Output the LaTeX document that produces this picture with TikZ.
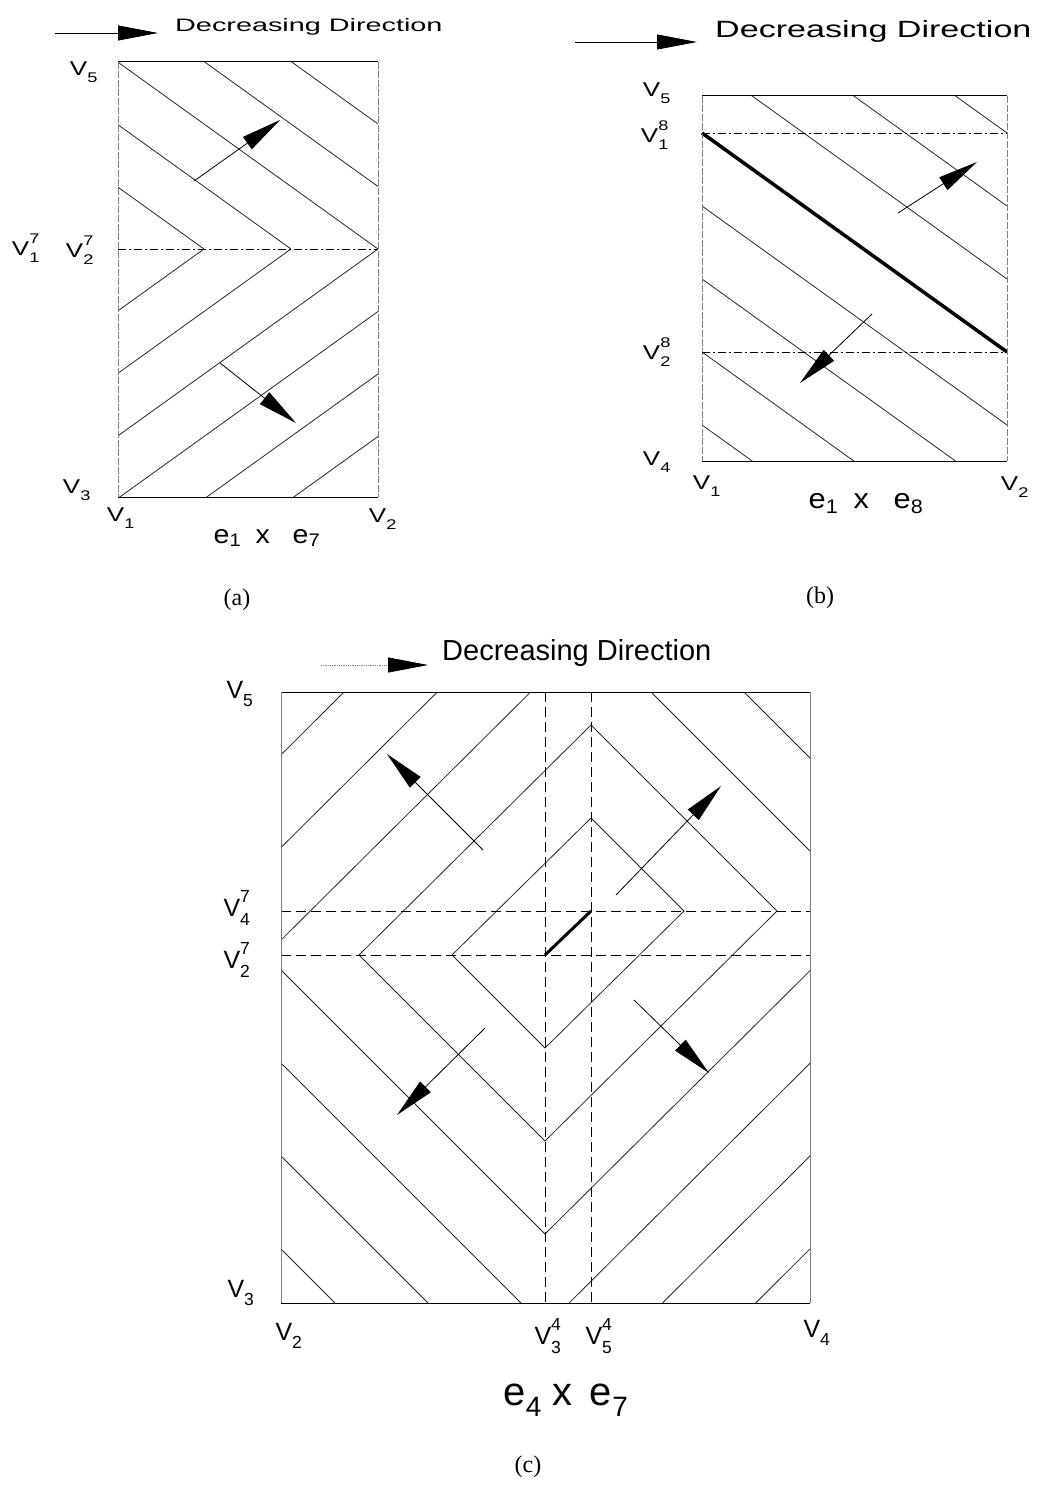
\documentclass[tikz,border=0pt]{standalone}
\usepackage{graphicx}
\usepackage{fontspec}
\setmainfont{Liberation Sans}
\newfontfamily\capfont{Liberation Serif}
\usetikzlibrary{arrows.meta}

\newcommand{\Vs}[1]{V\textsubscript{\raisebox{-0.25em}{#1}}}
\newcommand{\Vss}[2]{V\rlap{\textsuperscript{\raisebox{0.3em}{#1}}}\textsubscript{\raisebox{-0.3em}{#2}}}
\newcommand{\wide}[2][1.3]{\scalebox{#1}[1]{#2}}

\begin{document}
\begin{tikzpicture}[x=1pt, y=-1pt,
    contour/.style={line width=0.8pt, black!85},
    sideln/.style={line width=0.6pt, gray, dash pattern=on 7pt off 2pt},
    boxln/.style={line width=1pt},
    dashdot/.style={line width=0.7pt, dash pattern=on 8pt off 3pt on 2pt off 3pt},
    dashln/.style={line width=0.7pt, dash pattern=on 10pt off 5pt},
    optline/.style={line width=3.5pt},
    gradarrow/.style={line width=0.8pt, -{Triangle[length=40pt,width=15pt]}},
    lab/.style={inner sep=0pt, font=\fontsize{20}{22}\selectfont},
    labc/.style={inner sep=0pt, font=\fontsize{25}{28}\selectfont},
    capt/.style={inner sep=0pt, font=\capfont\fontsize{24}{28}\selectfont}
  ]
  \useasboundingbox (0,0) rectangle (1040,1487);

  % ---------- (a) e1 x e7 ----------
  \coordinate (a-nw) at (118,62);
  \coordinate (a-ne) at (378,62);
  \coordinate (a-sw) at (118,497);
  \coordinate (a-se) at (378,497);
  \coordinate (a-ml) at (118,249);
  \coordinate (a-mr) at (378,249);
  \begin{scope}
    \clip (a-nw) rectangle (a-mr);
    \foreach \a in {204,291,378,465,552}
      \draw[contour] (\a,249) -- ++(-348,-250);
  \end{scope}
  \begin{scope}
    \clip (a-ml) rectangle (a-se);
    \foreach \a in {204,291,378,465,552,639}
      \draw[contour] (\a,249) -- ++(-348,250);
  \end{scope}
  \draw[boxln] (a-nw) -- (a-ne);
  \draw[boxln] (a-sw) -- (a-se);
  \draw[sideln] (a-nw) -- (a-sw);
  \draw[sideln] (a-ne) -- (a-se);
  \draw[dashdot] (a-ml) -- (a-mr);

  \coordinate (a-dir-s) at (55,33);
  \coordinate (a-dir-t) at (158,33);
  \draw[gradarrow] (a-dir-s) -- (a-dir-t);
  \node[inner sep=0pt, anchor=base west, font=\fontsize{18}{20}\selectfont]
    (a-title) at (175,32) {\wide[1.6]{Decreasing Direction}};

  \coordinate (a-up-s) at (194,181);
  \coordinate (a-up-t) at (280,120);
  \coordinate (a-dn-s) at (220,363);
  \coordinate (a-dn-t) at (296,423);
  \draw[gradarrow] (a-up-s) -- (a-up-t);
  \draw[gradarrow] (a-dn-s) -- (a-dn-t);

  \node[lab] (a-v5)  at (84,72)   {\wide{\Vs{5}}};
  \node[lab] (a-v17) at (26,248)  {\wide{\Vss{7}{1}}};
  \node[lab] (a-v27) at (80,250)  {\wide{\Vss{7}{2}}};
  \node[lab] (a-v3)  at (77,490)  {\wide{\Vs{3}}};
  \node[lab] (a-v1)  at (121,518) {\wide{\Vs{1}}};
  \node[lab] (a-v2)  at (383,519) {\wide{\Vs{2}}};
  \node[inner sep=0pt, font=\fontsize{26}{28}\selectfont]
    (a-name) at (267,538) {\wide[1.1]{e\textsubscript{1}\hspace{0.5em}x\hspace{0.8em}e\textsubscript{7}}};
  \node[capt] (a-cap) at (237,600) {(a)};

  % ---------- (b) e1 x e8 ----------
  \coordinate (b-nw) at (702,96);
  \coordinate (b-ne) at (1007,96);
  \coordinate (b-sw) at (702,461);
  \coordinate (b-se) at (1007,461);
  \coordinate (b-1l) at (702,133);
  \coordinate (b-1r) at (1007,133);
  \coordinate (b-2l) at (702,352);
  \coordinate (b-2r) at (1007,352);
  \begin{scope}
    \clip (b-nw) rectangle (b-se);
    \foreach \c in {-86,-13,60,206,279,352,425}
      \draw[contour] (702,\c) -- ++(305,219);
  \end{scope}
  \draw[optline] (b-1l) -- (b-2r);
  \draw[boxln] (b-nw) -- (b-ne);
  \draw[boxln] (b-sw) -- (b-se);
  \draw[sideln] (b-nw) -- (b-sw);
  \draw[sideln] (b-ne) -- (b-se);
  \draw[dashdot] (b-1l) -- (b-1r);
  \draw[dashdot] (b-2l) -- (b-2r);

  \coordinate (b-dir-s) at (575,42);
  \coordinate (b-dir-t) at (697,42);
  \draw[gradarrow] (b-dir-s) -- (b-dir-t);
  \node[inner sep=0pt, anchor=base west, font=\fontsize{23.5}{26}\selectfont]
    (b-title) at (715,38) {\wide[1.45]{Decreasing Direction}};

  \coordinate (b-up-s) at (898,213);
  \coordinate (b-up-t) at (977,162);
  \coordinate (b-dn-s) at (872,314);
  \coordinate (b-dn-t) at (800,383);
  \draw[gradarrow] (b-up-s) -- (b-up-t);
  \draw[gradarrow] (b-dn-s) -- (b-dn-t);

  \node[lab] (b-v5)  at (657,93)   {\wide{\Vs{5}}};
  \node[lab] (b-v18) at (655,135)  {\wide{\Vss{8}{1}}};
  \node[lab] (b-v28) at (657,352)  {\wide{\Vss{8}{2}}};
  \node[lab] (b-v4)  at (657,462)  {\wide{\Vs{4}}};
  \node[lab] (b-v1)  at (707,486)  {\wide{\Vs{1}}};
  \node[lab] (b-v2)  at (1015,487) {\wide{\Vs{2}}};
  \node[inner sep=0pt, font=\fontsize{28}{30}\selectfont]
    (b-name) at (866,504) {\wide[1.1]{e\textsubscript{1}\hspace{0.5em}x\hspace{0.8em}e\textsubscript{8}}};
  \node[capt] (b-cap) at (820,598) {(b)};

  % ---------- (c) e4 x e7 ----------
  \coordinate (c-nw) at (281,692);
  \coordinate (c-ne) at (810,692);
  \coordinate (c-sw) at (281,1303);
  \coordinate (c-se) at (810,1303);
  \coordinate (c-4l) at (281,911);
  \coordinate (c-4r) at (810,911);
  \coordinate (c-2l) at (281,955);
  \coordinate (c-2r) at (810,955);
  \coordinate (c-3t) at (545,692);
  \coordinate (c-3b) at (545,1303);
  \coordinate (c-5t) at (591,692);
  \coordinate (c-5b) at (591,1303);
  \begin{scope}
    \clip (c-nw) rectangle (c-se);
    \foreach \t in {93,186,279,372,465,558}
      \draw[contour] ({545-\t},955) -- (591,{911-\t}) -- ({591+\t},911)
        -- (545,{955+\t}) -- cycle;
  \end{scope}
  \draw[dashln] (c-4l) -- (c-4r);
  \draw[dashln] (c-2l) -- (c-2r);
  \draw[dashln] (c-3t) -- (c-3b);
  \draw[dashln] (c-5t) -- (c-5b);
  \draw[optline, line width=3pt] (545,955) -- (591,911);
  \draw[boxln] (c-nw) -- (c-ne);
  \draw[boxln] (c-sw) -- (c-se);
  \draw[line width=0.6pt, gray] (c-nw) -- (c-sw);
  \draw[line width=0.6pt, gray] (c-ne) -- (c-se);

  \coordinate (c-dir-s) at (321,665);
  \coordinate (c-dir-m) at (388,665);
  \coordinate (c-dir-t) at (428,665);
  \draw[line width=0.8pt, gray, densely dotted] (c-dir-s) -- (c-dir-m);
  \draw[gradarrow] (c-dir-m) -- (c-dir-t);
  \node[inner sep=0pt, anchor=base west, font=\fontsize{29}{32}\selectfont]
    (c-title) at (442,660) {Decreasing Direction};

  \coordinate (c-ul-s) at (483,850);
  \coordinate (c-ul-t) at (387,754);
  \coordinate (c-ur-s) at (616,895);
  \coordinate (c-ur-t) at (721,786);
  \coordinate (c-lr-s) at (634,1000);
  \coordinate (c-lr-t) at (709,1073);
  \coordinate (c-ll-s) at (485,1028);
  \coordinate (c-ll-t) at (397,1115);
  \draw[gradarrow] (c-ul-s) -- (c-ul-t);
  \draw[gradarrow] (c-ur-s) -- (c-ur-t);
  \draw[gradarrow] (c-lr-s) -- (c-lr-t);
  \draw[gradarrow] (c-ll-s) -- (c-ll-t);

  \node[labc] (c-v5)  at (240,694)  {\Vs{5}};
  \node[labc] (c-v47) at (237,908)  {\Vss{7}{4}};
  \node[labc] (c-v27) at (237,960)  {\Vss{7}{2}};
  \node[labc] (c-v3)  at (241,1293) {\Vs{3}};
  \node[labc] (c-v2)  at (289,1336) {\Vs{2}};
  \node[labc] (c-v34) at (548,1336) {\Vss{4}{3}};
  \node[labc] (c-v54) at (599,1336) {\Vss{4}{5}};
  \node[labc] (c-v4)  at (817,1333) {\Vs{4}};
  \node[inner sep=0pt, font=\fontsize{40}{44}\selectfont]
    (c-name) at (566,1400) {e\textsubscript{4}\hspace{0.25em}x\hspace{0.45em}e\textsubscript{7}};
  \node[capt] (c-cap) at (528,1467) {(c)};
\end{tikzpicture}
\end{document}
